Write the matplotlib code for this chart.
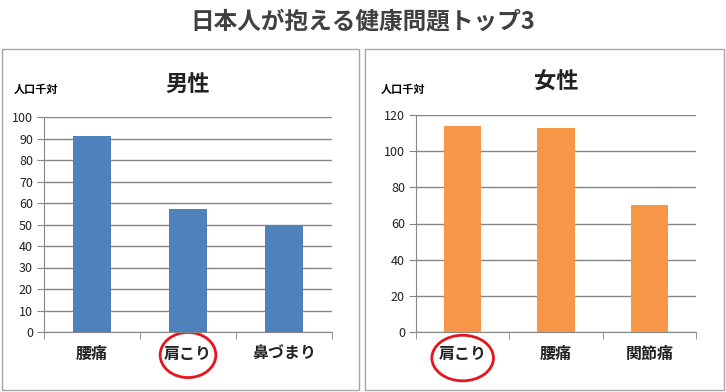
import matplotlib.pyplot as plt
from matplotlib.patches import Ellipse, Rectangle
from matplotlib.transforms import blended_transform_factory

plt.rcParams['font.family'] = ['Noto Sans CJK JP', 'DejaVu Sans']

title = "日本人が抱える健康問題トップ3"
unit_label = "人口千対"

male_title = "男性"
male_cats = ["腰痛", "肩こり", "鼻づまり"]
male_vals = [91, 57, 50]
male_ticks = list(range(0, 101, 10))

female_title = "女性"
female_cats = ["肩こり", "腰痛", "関節痛"]
female_vals = [114, 113, 70]
female_ticks = list(range(0, 121, 20))

W, H = 726, 392
fig = plt.figure(figsize=(W / 100, H / 100), dpi=100)

fig.text(363 / W, 1 - 21 / H, title, ha="center", va="center",
         fontsize=17, fontweight="bold", color="#404040")


def px_box(x0, y0, x1, y1):
    # pixel box (top-left origin) -> figure fraction rect
    return [x0 / W, 1 - y1 / H, (x1 - x0) / W, (y1 - y0) / H]


def panel(frame, axbox, name, cats, vals, ticks, color, circled, ell_w, ell_y):
    fx0, fy0, fx1, fy1 = frame
    fig.patches.append(Rectangle((fx0 / W, 1 - fy1 / H), (fx1 - fx0) / W, (fy1 - fy0) / H,
                                 transform=fig.transFigure, fill=False,
                                 edgecolor="#a6a6a6", linewidth=1))
    ax = fig.add_axes(px_box(*axbox))
    x = range(len(cats))
    ax.bar(x, vals, width=0.4, color=color, zorder=3)
    ax.set_xlim(-0.5, len(cats) - 0.5)
    ax.set_ylim(ticks[0], ticks[-1])
    ax.set_yticks(ticks)
    ax.yaxis.grid(True, color="#868686", linewidth=1)
    ax.set_axisbelow(True)
    for s in ("top", "right"):
        ax.spines[s].set_visible(False)
    for s in ("left", "bottom"):
        ax.spines[s].set_color("#868686")
    ax.set_xticks(list(x))
    ax.set_xticklabels(cats, fontsize=11.5, fontweight="bold", color="#222222")
    ax.set_xticks([i - 0.5 for i in range(len(cats) + 1)], minor=True)
    ax.tick_params(axis="x", which="major", length=0, pad=10)
    ax.tick_params(axis="x", which="minor", length=5, color="#868686")
    ax.tick_params(axis="y", length=5, color="#868686", labelsize=9,
                   labelcolor="#222222", pad=3)
    ax.set_title(name, fontsize=16, fontweight="bold", color="#222222", pad=19)
    ax.text(unit_x, 1 - 89 / H, unit_label, transform=fig.transFigure,
            fontsize=8, fontweight="bold", va="center", ha="left")
    tr = blended_transform_factory(ax.transData, ax.transAxes)
    ax.add_patch(Ellipse((circled, ell_y), ell_w, 0.21, transform=tr,
                         fill=False, edgecolor="#e8141b", linewidth=2, clip_on=False))
    return ax


unit_x = 14 / W
panel((2, 49, 359, 390), (44, 117, 332, 332), male_title, male_cats, male_vals,
      male_ticks, "#4f81bd", male_cats.index("肩こり"), 0.58, -0.107)
unit_x = 381 / W
panel((365, 49, 724, 390), (416, 115, 696, 332), female_title, female_cats, female_vals,
      female_ticks, "#f79646", female_cats.index("肩こり"), 0.66, -0.12)

fig.savefig("out.png", dpi=100)
